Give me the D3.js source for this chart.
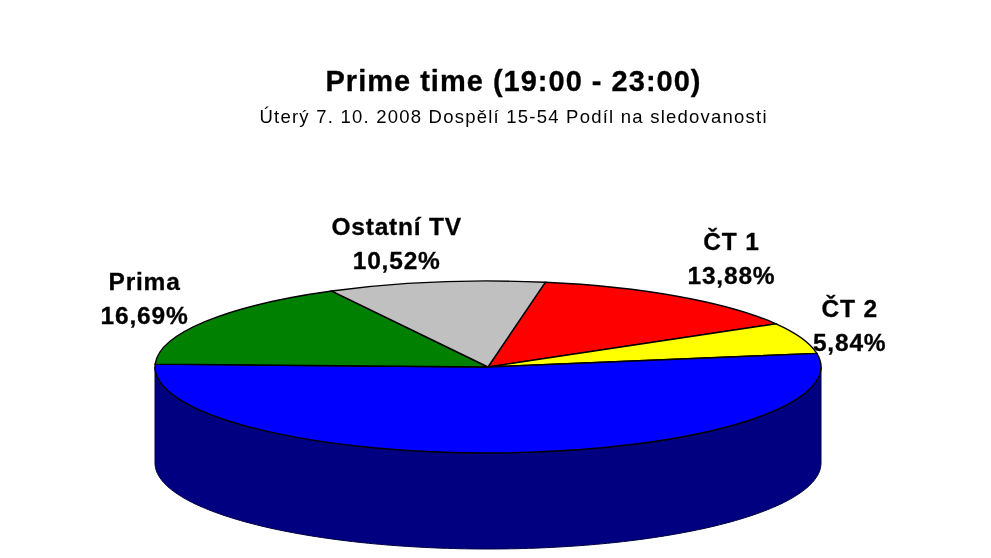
<!DOCTYPE html>
<html>
<head>
<meta charset="utf-8">
<script src="https://cdn.jsdelivr.net/npm/d3@7/dist/d3.min.js"></script>
<style>
  html, body { margin: 0; padding: 0; background: #fff; }
  svg { display: block; filter: blur(0.55px); }
  text { font-family: "Liberation Sans", Arial, sans-serif; fill: #000; text-anchor: middle; }
  .title { font-size: 29px; font-weight: bold; stroke: #000; stroke-width: 0.3px; }
  .subtitle { font-size: 18.5px; }
  .label { font-size: 24.5px; font-weight: bold; letter-spacing: 0.8px; stroke: #000; stroke-width: 0.3px; }
</style>
</head>
<body>
<svg id="chart" width="991" height="558"></svg>
<script>
const categories = ["ČT 1", "ČT 2", "Nova", "Prima", "Ostatní TV"]
const shares = [13.88, 5.84, 53.07, 16.69, 10.52]
const colors = ["#ff0000", "#ffff00", "#0000ff", "#008000", "#c0c0c0"]
const titleText = "Prime time (19:00 - 23:00)"
const subtitleText = "Úterý 7. 10. 2008  Dospělí 15-54  Podíl na sledovanosti"

const width = 991, height = 558
const cx = 488, cy = 367, rx = 333, ry = 86, depth = 96
const startAngle = 9.9 * Math.PI / 180

// label nudge from the rim point of each slice, Nova has no label in the picture
const labelNudge = {
    "ČT 1": [53, -46],
    "ČT 2": [48, -21],
    "Prima": [-61, -31],
    "Ostatní TV": [-39, -47]
}

const svg = d3.select("#chart")
const comma = v => v.toFixed(2).replace(".", ",") + "%"

const slices = d3.pie()
    .sort(null)
    .startAngle(startAngle)
    .endAngle(startAngle + 2 * Math.PI)
    .value(d => d.share)(categories.map((name, i) => ({ name, share: shares[i], color: colors[i] })))

const rimX = d3.scaleLinear().domain([-1, 1]).range([cx - rx, cx + rx])
const rimY = d3.scaleLinear().domain([-1, 1]).range([cy - ry, cy + ry])

// side wall, only the front half of the disc is visible
const front = d3.range(90, 270.5, 1).map(a => a * Math.PI / 180)
const wall = d3.area()
    .x(a => rimX(Math.sin(a)))
    .y0(a => rimY(-Math.cos(a)))
    .y1(a => rimY(-Math.cos(a)) + depth)

svg.append("path")
    .attr("d", wall(front))
    .attr("fill", "#000080")
    .attr("stroke", "#000040")
    .attr("stroke-width", 1)

// top of the disc, flattened circle
const arc = d3.arc().innerRadius(0).outerRadius(rx)

svg.append("g")
    .attr("transform", `translate(${cx},${cy}) scale(1,${ry / rx})`)
    .selectAll("path")
    .data(slices)
    .join("path")
    .attr("d", arc)
    .attr("fill", d => d.data.color)
    .attr("stroke", "#000")
    .attr("stroke-width", 1.4)
    .attr("vector-effect", "non-scaling-stroke")

svg.append("text").attr("class", "title")
    .attr("x", 513).attr("y", 91)
    .attr("textLength", 375)
    .text(titleText)

svg.append("text").attr("class", "subtitle")
    .attr("x", 513).attr("y", 123)
    .attr("textLength", 507)
    .text(subtitleText)

const labelled = slices.filter(d => labelNudge[d.data.name])
const labels = svg.selectAll("g.slice-label")
    .data(labelled)
    .join("g")
    .attr("class", "slice-label")
    .attr("transform", d => {
        const mid = (d.startAngle + d.endAngle) / 2
        const [dx, dy] = labelNudge[d.data.name]
        return `translate(${rimX(Math.sin(mid)) + dx},${rimY(-Math.cos(mid)) + dy})`
    })

labels.append("text").attr("class", "label").text(d => d.data.name)
labels.append("text").attr("class", "label").attr("y", 34).text(d => comma(d.data.share))
</script>
</body>
</html>
